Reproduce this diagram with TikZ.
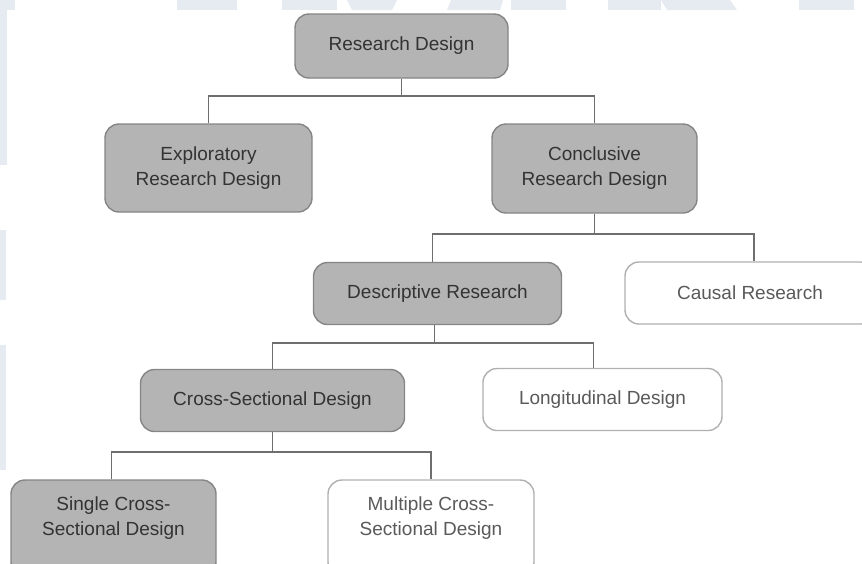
\documentclass[tikz,border=0pt]{standalone}
\usepackage{fontspec}
\setmainfont{Liberation Sans}
\definecolor{boxfill}{HTML}{B4B4B4}
\definecolor{boxline}{HTML}{858585}
\definecolor{boxtext}{HTML}{333333}
\definecolor{wline}{HTML}{B0B0B0}
\definecolor{wtext}{HTML}{5A5A5A}
\definecolor{conn}{HTML}{6E6E6E}
\definecolor{wmark}{HTML}{E6EAF1}
\tikzset{
  base/.style={rectangle, rounded corners=14pt, inner sep=0pt, align=center,
    font=\fontsize{19}{25}\selectfont, line width=1.4pt},
  graybox/.style={base, fill=boxfill, draw=boxline, text=boxtext},
  whitebox/.style={base, fill=white, draw=wline, text=wtext},
  label text/.style={inner sep=0pt, align=center, font=\fontsize{19}{25}\selectfont},
  link/.style={draw=conn, line width=1.6pt},
  wm/.style={fill=wmark, draw=none}
}
\begin{document}
\begin{tikzpicture}[x=1pt,y=-1pt]
\useasboundingbox (0,0) rectangle (862,563);
% faint watermark fragments
\fill[wm] (0,0) rectangle (15,10);
\fill[wm] (177,0) rectangle (237,10);
\fill[wm] (282,0) rectangle (337,10);
\fill[wm] (347,0) -- (397,0) -- (392,10) -- (352,10) -- cycle;
\fill[wm] (451,0) -- (503,0) -- (500,10) -- (447,10) -- cycle;
\fill[wm] (511,0) rectangle (566,10);
\fill[wm] (608,0) rectangle (661,10);
\fill[wm] (661,0) -- (730,0) -- (737,10) -- (667,10) -- cycle;
\fill[wm] (799,0) rectangle (854,10);
\fill[wm] (0,0) rectangle (7,165);
\fill[wm] (0,230) rectangle (6,300);
\fill[wm] (0,345) rectangle (6,470);

% boxes
\node[graybox, minimum width=213pt, minimum height=64pt] (rd) at (401.5,46) {Research Design};
\node[graybox, minimum width=207pt, minimum height=88pt] (expl) at (208.5,168) {Exploratory\\Research Design};
\node[graybox, minimum width=205pt, minimum height=89pt] (concl) at (594.5,168.5) {Conclusive\\Research Design};
\node[graybox, minimum width=248pt, minimum height=62pt] (desc) at (437.5,293.5) {Descriptive Research};
\node[whitebox, minimum width=250pt, minimum height=62pt] (causal) at (750,293) {Causal Research};
\node[graybox, minimum width=264pt, minimum height=62pt] (cross) at (272.5,400.5) {Cross-Sectional Design};
\node[whitebox, minimum width=239pt, minimum height=62pt] (long) at (602.5,399.5) {Longitudinal Design};
\node[graybox, minimum width=205pt, minimum height=96pt] (single) at (113.5,528) {};
\node[whitebox, minimum width=206pt, minimum height=96pt] (multi) at (431,528) {};
\node[label text, text=boxtext] (singlet) at (113.5,518) {Single Cross-\\Sectional Design};
\node[label text, text=wtext] (multit) at (431,518) {Multiple Cross-\\Sectional Design};

% connectors
\coordinate (j1) at (401.5,96);
\coordinate (j2) at (594.5,234);
\coordinate (j3) at (437.5,343);
\coordinate (j4) at (272.5,452);
\draw[link] (rd.south) -- (j1);
\draw[link] (expl.north) |- (j1) -| (concl.north);
\draw[link] (concl.south) -- (j2);
\draw[link] ([xshift=-5pt]desc.north) |- (j2) -| ([xshift=4pt]causal.north);
\draw[link] ([xshift=-3pt]desc.south) -- ([xshift=-3pt]j3);
\draw[link] (cross.north) |- (j3) -| ([xshift=-9pt]long.north);
\draw[link] (cross.south) -- (j4);
\draw[link] ([xshift=-2pt]single.north) |- (j4) -| (multi.north);
\end{tikzpicture}
\end{document}
